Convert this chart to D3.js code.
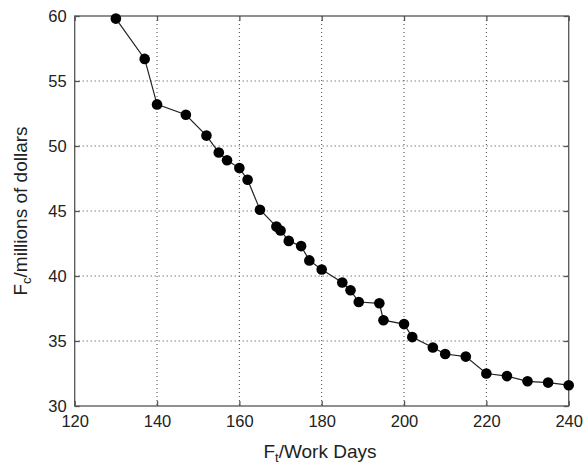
<!DOCTYPE html>
<html>
<head>
<meta charset="utf-8">
<script src="https://cdn.jsdelivr.net/npm/d3@7"></script>
<style>
  body { margin: 0; background: #fff; }
  svg { display: block; font-family: "Liberation Sans", Arial, sans-serif; }
  .tick text { font-size: 16.5px; fill: #222; }
  .grid line { stroke: #444; stroke-width: 1; stroke-dasharray: 1,3; }
  .frame { fill: none; stroke: #555; stroke-width: 1.3; }
  .curve { fill: none; stroke: #222; stroke-width: 1.2; }
  .title { font-size: 19px; fill: #222; }
</style>
</head>
<body>
<script>
// data
const workDays = [130, 137, 140, 147, 152, 155, 157, 160, 162, 165, 169, 170, 172, 175, 177, 180,
  185, 187, 189, 194, 195, 200, 202, 207, 210, 215, 220, 225, 230, 235, 240]
const cost = [59.8, 56.7, 53.2, 52.4, 50.8, 49.5, 48.9, 48.3, 47.4, 45.1, 43.8, 43.5, 42.7, 42.3, 41.2, 40.5,
  39.5, 38.9, 38.0, 37.9, 36.6, 36.3, 35.3, 34.5, 34.0, 33.8, 32.5, 32.3, 31.9, 31.8, 31.6]
const xTicks = [120, 140, 160, 180, 200, 220, 240]
const yTicks = [30, 35, 40, 45, 50, 55, 60]

//consts
const width = 584, height = 466
const plotLeft = 74.7, plotRight = 568.7, plotTop = 16, plotBottom = 406
const tickLen = 5

const x = d3.scaleLinear().domain([120, 240]).range([plotLeft, plotRight])
const y = d3.scaleLinear().domain([30, 60]).range([plotBottom, plotTop])

const svg = d3.select('body').append('svg')
  .attr('width', width)
  .attr('height', height)

//grid
svg.append('g').attr('class', 'grid')
  .selectAll('line').data(xTicks.slice(1, -1)).enter().append('line')
  .attr('x1', d => x(d)).attr('x2', d => x(d))
  .attr('y1', plotTop).attr('y2', plotBottom)
svg.append('g').attr('class', 'grid')
  .selectAll('line').data(yTicks.slice(1, -1)).enter().append('line')
  .attr('y1', d => y(d)).attr('y2', d => y(d))
  .attr('x1', plotLeft).attr('x2', plotRight)

//axes, ticks pointing inward on all four sides
const axisStyle = g => {
  g.select('.domain').remove()
  g.selectAll('.tick line').attr('stroke', '#555').attr('stroke-width', 1.3)
}
svg.append('g')
  .attr('transform', 'translate(0,' + plotBottom + ')')
  .call(d3.axisBottom(x).tickValues(xTicks).tickSize(-tickLen).tickPadding(9))
  .call(axisStyle)
svg.append('g')
  .attr('transform', 'translate(0,' + plotTop + ')')
  .call(d3.axisTop(x).tickValues(xTicks).tickSize(-tickLen).tickFormat(''))
  .call(axisStyle)
svg.append('g')
  .attr('transform', 'translate(' + plotLeft + ',0)')
  .call(d3.axisLeft(y).tickValues(yTicks).tickSize(-tickLen).tickPadding(8))
  .call(axisStyle)
svg.append('g')
  .attr('transform', 'translate(' + plotRight + ',0)')
  .call(d3.axisRight(y).tickValues(yTicks).tickSize(-tickLen).tickFormat(''))
  .call(axisStyle)
svg.selectAll('.tick text').attr('font-family', null).attr('font-size', null)

//frame
svg.append('rect').attr('class', 'frame')
  .attr('x', plotLeft).attr('y', plotTop)
  .attr('width', plotRight - plotLeft).attr('height', plotBottom - plotTop)

//line and markers
const points = workDays.map((d, i) => [d, cost[i]])
svg.append('path').attr('class', 'curve')
  .attr('d', d3.line().x(d => x(d[0])).y(d => y(d[1]))(points))
svg.append('g').selectAll('circle').data(points).enter().append('circle')
  .attr('cx', d => x(d[0])).attr('cy', d => y(d[1]))
  .attr('r', 5.3).attr('fill', '#000')

//axis titles
const xt = svg.append('text').attr('class', 'title')
  .attr('x', 320).attr('y', 458)
  .attr('text-anchor', 'middle')
xt.append('tspan').text('F')
xt.append('tspan').attr('baseline-shift', '-30%').attr('font-size', '13px').text('t')
xt.append('tspan').text('/Work Days')

const yt = svg.append('text').attr('class', 'title')
  .attr('transform', 'translate(27,211) rotate(-90)')
  .attr('text-anchor', 'middle')
yt.append('tspan').text('F')
yt.append('tspan').attr('baseline-shift', '-30%').attr('font-size', '13px').text('c')
yt.append('tspan').text('/millions of dollars')
</script>
</body>
</html>
